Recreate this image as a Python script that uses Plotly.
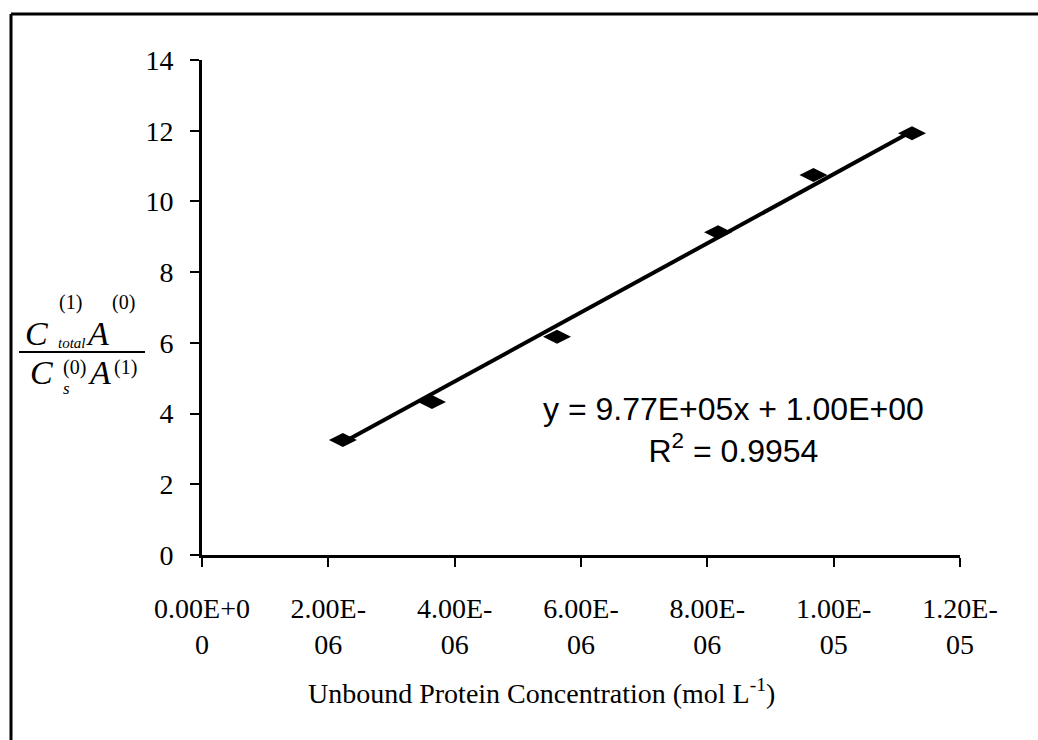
import plotly.graph_objects as go

# Unbound protein concentration (mol/L) and the absorbance/concentration ratio
conc = [2.23e-6, 3.64e-6, 5.62e-6, 8.17e-6, 9.68e-6, 1.124e-5]
ratio = [3.25, 4.33, 6.17, 9.13, 10.75, 11.93]

# Linear trendline coefficients as reported on the chart
slope = 9.77e5
intercept = 1.00
r_squared = 0.9954

x_tick_vals = [0, 2e-6, 4e-6, 6e-6, 8e-6, 1e-5, 1.2e-5]
x_tick_text = ["0.00E+0<br>0", "2.00E-<br>06", "4.00E-<br>06", "6.00E-<br>06",
               "8.00E-<br>06", "1.00E-<br>05", "1.20E-<br>05"]
y_tick_vals = [0, 2, 4, 6, 8, 10, 12, 14]

W, H = 1038, 740
L, R, T, B = 202, 78, 60, 185
SERIF = "Liberation Serif, Times New Roman, serif"
SANS = "Liberation Sans, Arial, sans-serif"


def px(x):
    return (x - L) / (W - L - R)


def py(y):
    return (H - B - y) / (H - T - B)


fit_x = [min(conc), max(conc)]
fit_y = [slope * v + intercept for v in fit_x]

fig = go.Figure()
fig.add_trace(go.Scatter(x=fit_x, y=fit_y, mode="lines",
                         line=dict(color="black", width=4), hoverinfo="skip"))
fig.add_trace(go.Scatter(x=conc, y=ratio, mode="markers",
                         marker=dict(symbol="diamond-wide", size=20, color="black")))

axis_common = dict(showline=True, linecolor="black", linewidth=3, showgrid=False,
                   zeroline=False, ticks="outside", ticklen=9, tickwidth=2,
                   tickcolor="black", tickfont=dict(family=SERIF, size=28, color="black"))

fig.update_xaxes(range=[0, 1.2e-5], tickvals=x_tick_vals, ticktext=x_tick_text,
                 ticklabelstandoff=17, **axis_common)
fig.update_yaxes(range=[0, 14], tickvals=y_tick_vals, ticklabelstandoff=11, **axis_common)

ann = []


def txt(x, y, s, size, anchor="center", family=SERIF):
    ann.append(dict(x=px(x), y=py(y), xref="paper", yref="paper", text=s,
                    showarrow=False, xanchor=anchor, yanchor="middle",
                    font=dict(family=family, size=size, color="black")))


# stacked fraction used as the y-axis title
txt(23, 333, "<i>C</i>", 34, "left")
txt(57, 302, "(1)", 20, "left")
txt(56, 343, "<i>total</i>", 15, "left")
txt(84, 333, "<i>A</i>", 34, "left")
txt(110, 302, "(0)", 20, "left")
txt(28, 372, "<i>C</i>", 34, "left")
txt(61, 367, "(0)", 20, "left")
txt(61, 388, "<i>s</i>", 17, "left")
txt(86, 372, "<i>A</i>", 34, "left")
txt(112, 367, "(1)", 20, "left")

txt(541, 691, "Unbound Protein Concentration (mol L<sup>-1</sup>)", 28)
txt(733, 430, f"y = {slope:.2E}x + {intercept:.2E}<br>R<sup>2</sup> = {r_squared:.4f}", 32,
    family=SANS)

fig.update_layout(
    width=W, height=H, margin=dict(l=L, r=R, t=T, b=B),
    paper_bgcolor="white", plot_bgcolor="white", showlegend=False,
    annotations=ann,
    shapes=[
        dict(type="line", xref="paper", yref="paper", x0=px(19), x1=px(145),
             y0=py(352), y1=py(352), line=dict(color="black", width=2)),
        dict(type="line", xref="paper", yref="paper", x0=px(11), x1=px(1038),
             y0=py(14), y1=py(14), line=dict(color="black", width=3)),
        dict(type="line", xref="paper", yref="paper", x0=px(11), x1=px(11),
             y0=py(14), y1=py(740), line=dict(color="black", width=3)),
    ],
)

fig.write_html("out.html")
